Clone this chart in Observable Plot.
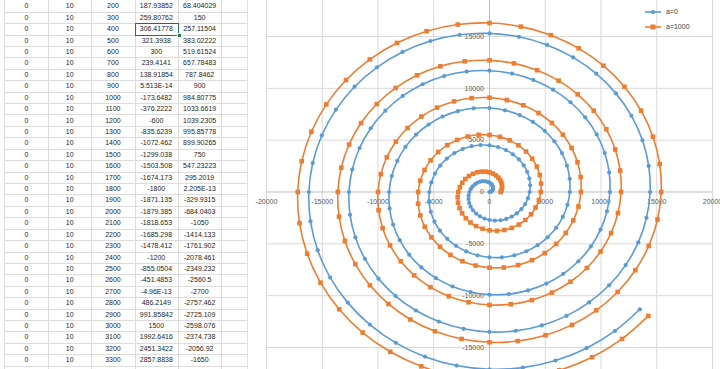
<!DOCTYPE html>
<html><head><meta charset="utf-8">
<script src="https://cdn.jsdelivr.net/npm/d3@7"></script>
<script src="https://cdn.jsdelivr.net/npm/@observablehq/plot@0.6"></script>
<style>
html,body{margin:0;padding:0;background:#fff;width:720px;height:369px;overflow:hidden;font-family:"Liberation Sans",Arial,sans-serif;}
#sheet{position:absolute;left:0;top:0;width:247px;height:369px;overflow:hidden;}
.cell{position:absolute;box-sizing:border-box;font-size:7px;color:#262626;text-align:center;border-right:1px solid #dcdcdc;border-bottom:1px solid #dcdcdc;white-space:nowrap;}
#chart{position:absolute;left:0;top:0;}
#legend{position:absolute;left:640px;top:4px;font-size:7px;color:#404040;}
</style></head><body>
<div id="sheet"></div>
<div id="chart"></div>
<div id="legend"></div>
<script>
// ---------- spreadsheet cells (as displayed) ----------
const colA = ["0","0","0","0","0","0","0","0","0","0","0","0","0","0","0","0","0","0","0","0","0","0","0","0","0","0","0","0","0","0","0","0","0"];
const colB = ["10","10","10","10","10","10","10","10","10","10","10","10","10","10","10","10","10","10","10","10","10","10","10","10","10","10","10","10","10","10","10","10","10"];
const colTheta = ["200","300","400","500","600","700","800","900","1000","1100","1200","1300","1400","1500","1600","1700","1800","1900","2000","2100","2200","2300","2400","2500","2600","2700","2800","2900","3000","3100","3200","3300","3400"];
const colX = ["187.93852","259.80762","306.41778","321.3938","300","239.4141","138.91854","5.513E-14","-173.6482","-376.2222","-600","-835.6239","-1072.462","-1299.038","-1503.508","-1674.173","-1800","-1871.135","-1879.385","-1818.653","-1685.298","-1478.412","-1200","-855.0504","-451.4853","-4.96E-13","486.2149","991.85842","1500","1992.6416","2451.3422","2857.8838","3194.9549"];
const colY = ["68.404029","150","257.11504","383.02222","519.61524","657.78483","787.8462","900","984.80775","1033.6619","1039.2305","995.85778","899.90265","750","547.23223","295.2019","2.205E-13","-329.9315","-684.0403","-1050","-1414.133","-1761.902","-2078.461","-2349.232","-2560.5","-2700","-2757.462","-2725.109","-2598.076","-2374.738","-2056.92","-1650","-1162.868"];

// ---------- chart series parameters (from the sheet: r = a + b*angle, angle in degrees) ----------
const seriesNames = ["a=0", "a=1000"];
const seriesA = [0, 1000];
const seriesB = [10, 10];
const thetaStart = 0, thetaEnd = 17600, thetaStep = 100;
const seriesColors = ["#5b9bd5", "#ed7d31"];
const seriesSymbols = ["circle", "square"];
const seriesDotR = [2.1, 2.6];
const xTicks = [-20000, -15000, -10000, -5000, 0, 5000, 10000, 15000, 20000];
const yTicks = [-15000, -10000, -5000, 0, 5000, 10000, 15000];

// ---------- sheet ----------
const sheet = document.getElementById("sheet");
const colEdges = [4, 48, 91.3, 134.6, 178, 221.3];
const rowTop0 = 0.3, rowH = 11.42;
const cols = [colA, colB, colTheta, colX, colY];
for (let k = 0; k < colTheta.length; k++) {
  for (let c = 0; c < cols.length; c++) {
    const d = document.createElement("div");
    d.className = "cell";
    d.style.left = colEdges[c] + "px";
    d.style.width = (colEdges[c+1] - colEdges[c] + 1) + "px";
    d.style.top = (rowTop0 + k*rowH) + "px";
    d.style.height = (rowH + 1) + "px";
    d.style.lineHeight = rowH + "px";
    if (c === 0) d.style.borderLeft = "1px solid #dcdcdc";
    d.textContent = cols[c][k];
    sheet.appendChild(d);
  }
  // empty trailing column
  const e = document.createElement("div");
  e.className = "cell";
  e.style.left = colEdges[5] + "px";
  e.style.width = "26px";
  e.style.top = (rowTop0 + k*rowH) + "px";
  e.style.height = (rowH + 1) + "px";
  e.style.borderRight = "none";
  sheet.appendChild(e);
}
// selected cell
const sel = document.createElement("div");
sel.style.cssText = `position:absolute;box-sizing:border-box;border:1.5px solid #217346;left:${colEdges[3]}px;top:${rowTop0+2*rowH}px;width:${colEdges[4]-colEdges[3]+1}px;height:${rowH+1}px;`;
sheet.appendChild(sel);
const handle = document.createElement("div");
handle.style.cssText = `position:absolute;background:#217346;border:1px solid #fff;width:3px;height:3px;left:${colEdges[4]-1.5}px;top:${rowTop0+3*rowH-1.5}px;`;
sheet.appendChild(handle);

// ---------- chart data ----------
const points = [];
seriesNames.forEach((name, i) => {
  for (let t = thetaStart; t <= thetaEnd; t += thetaStep) {
    const deg = t / seriesB[i];
    const r = seriesA[i] + seriesB[i] * deg;
    const rad = deg * Math.PI / 180;
    points.push({series: name, x: r * Math.cos(rad), y: r * Math.sin(rad)});
  }
});

const marks = [
  Plot.ruleX(xTicks.filter(d => d !== 0), {x: d => d, stroke: "#d9d9d9", strokeWidth: 1}),
  Plot.ruleY(yTicks.filter(d => d !== 0), {y: d => d, stroke: "#d9d9d9", strokeWidth: 1}),
  Plot.ruleX([0], {x: d => d, stroke: "#bfbfbf", strokeWidth: 1}),
  Plot.ruleY([0], {y: d => d, stroke: "#bfbfbf", strokeWidth: 1}),
  Plot.text(xTicks, {x: d => d, y: 0, dy: 10, text: d => String(d), fill: "#595959", fontSize: 7}),
  Plot.text(yTicks, {x: 0, y: d => d, dx: -5.5, textAnchor: "end", text: d => String(d), fill: "#595959", fontSize: 7})
];
seriesNames.forEach((name, i) => {
  const data = points.filter(p => p.series === name);
  marks.push(Plot.line(data, {x: "x", y: "y", stroke: seriesColors[i], strokeWidth: 1.6, curve: "catmull-rom", clip: true}));
  marks.push(Plot.dot(data, {x: "x", y: "y", fill: seriesColors[i], stroke: "none", symbol: seriesSymbols[i], r: seriesDotR[i], clip: true}));
});

const chart = Plot.plot({
  width: 720, height: 369,
  marginLeft: 266, marginRight: 8, marginTop: 0, marginBottom: 0,
  x: {domain: [-20000, 20000], axis: null},
  y: {domain: [-17122, 18472], axis: null},
  style: {background: "transparent", fontFamily: "Liberation Sans, Arial, sans-serif"},
  marks
});
document.getElementById("chart").appendChild(chart);

// chart area left border
const edge = document.createElement("div");
edge.style.cssText = "position:absolute;left:247px;top:0;width:1px;height:369px;background:#e3e3e3;";
document.body.appendChild(edge);

// ---------- legend ----------
const legend = document.getElementById("legend");
seriesNames.forEach((name, i) => {
  const row = document.createElement("div");
  row.style.cssText = "display:flex;align-items:center;height:15px;";
  const sym = seriesSymbols[i] === "circle"
    ? `<circle cx="9" cy="4" r="2.1" fill="${seriesColors[i]}"/>`
    : `<rect x="6.5" y="1.5" width="5" height="5" fill="${seriesColors[i]}"/>`;
  row.innerHTML = `<svg width="20" height="8" style="margin-left:4px"><line x1="1" x2="17" y1="4" y2="4" stroke="${seriesColors[i]}" stroke-width="1.6"/>${sym}</svg><span style="margin-left:2px">${name}</span>`;
  legend.appendChild(row);
});
</script>
</body></html>
